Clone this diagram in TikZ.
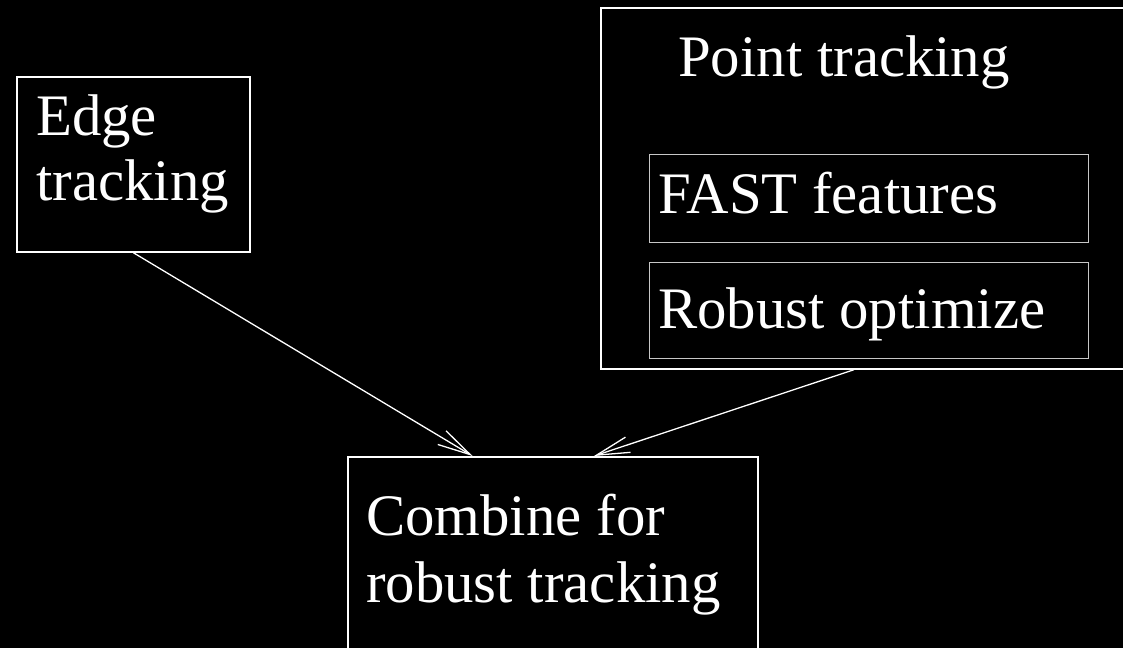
\documentclass[tikz,border=0pt]{standalone}
\usepackage{fontspec}
\setmainfont{Liberation Serif}
\usetikzlibrary{arrows.meta,calc}
\newcommand\lblfont{\fontsize{58.8}{65}\selectfont}
\begin{document}
\begin{tikzpicture}[x=1pt,y=-1pt,
  frame/.style={draw=white, line width=1.7pt, rectangle, inner sep=0pt, anchor=north west},
  subframe/.style={draw=white!78!black, line width=1pt, rectangle, inner sep=0pt, anchor=north west},
  txt/.style={text=white, font=\lblfont, inner sep=0pt, anchor=base west},
  link/.style={draw=white, line width=1.3pt, -{Straight Barb[length=33pt,width=16pt]}}]
\useasboundingbox (0,0) rectangle (1123,648);
\clip (0,0) rectangle (1123,648);
\fill[black] (0,0) rectangle (1123,648);

% edge tracking
\node[frame, minimum width=233pt, minimum height=175pt] (edge) at (16,76) {};
\node[txt] (edgeA) at (36,135) {Edge};
\node[txt] (edgeB) at (36,200) {tracking};

% point tracking with its two stages
\node[frame, minimum width=530pt, minimum height=361pt] (point) at (600,7) {};
\node[txt] (pointT) at (678,76) {Point tracking};
\node[subframe, minimum width=439pt, minimum height=88pt] (fast) at (649,154) {};
\node[txt] (fastT) at (658,213) {FAST features};
\node[subframe, minimum width=439pt, minimum height=96pt] (robust) at (649,262) {};
\node[txt] (robustT) at (658,328) {Robust optimize};

% combination
\node[frame, minimum width=410pt, minimum height=260pt] (comb) at (347,456) {};
\node[txt] (combA) at (366,535) {Combine for};
\node[txt] (combB) at (366,602) {robust tracking};

% connectors
\coordinate (ptail) at ($(point.south west)+(254,0)$);
\draw[link] (edge.south) -- ($(comb.north west)!0.305!(comb.north east)$);
\draw[link] (ptail) -- ($(comb.north west)!0.6!(comb.north east)$);
\end{tikzpicture}
\end{document}
